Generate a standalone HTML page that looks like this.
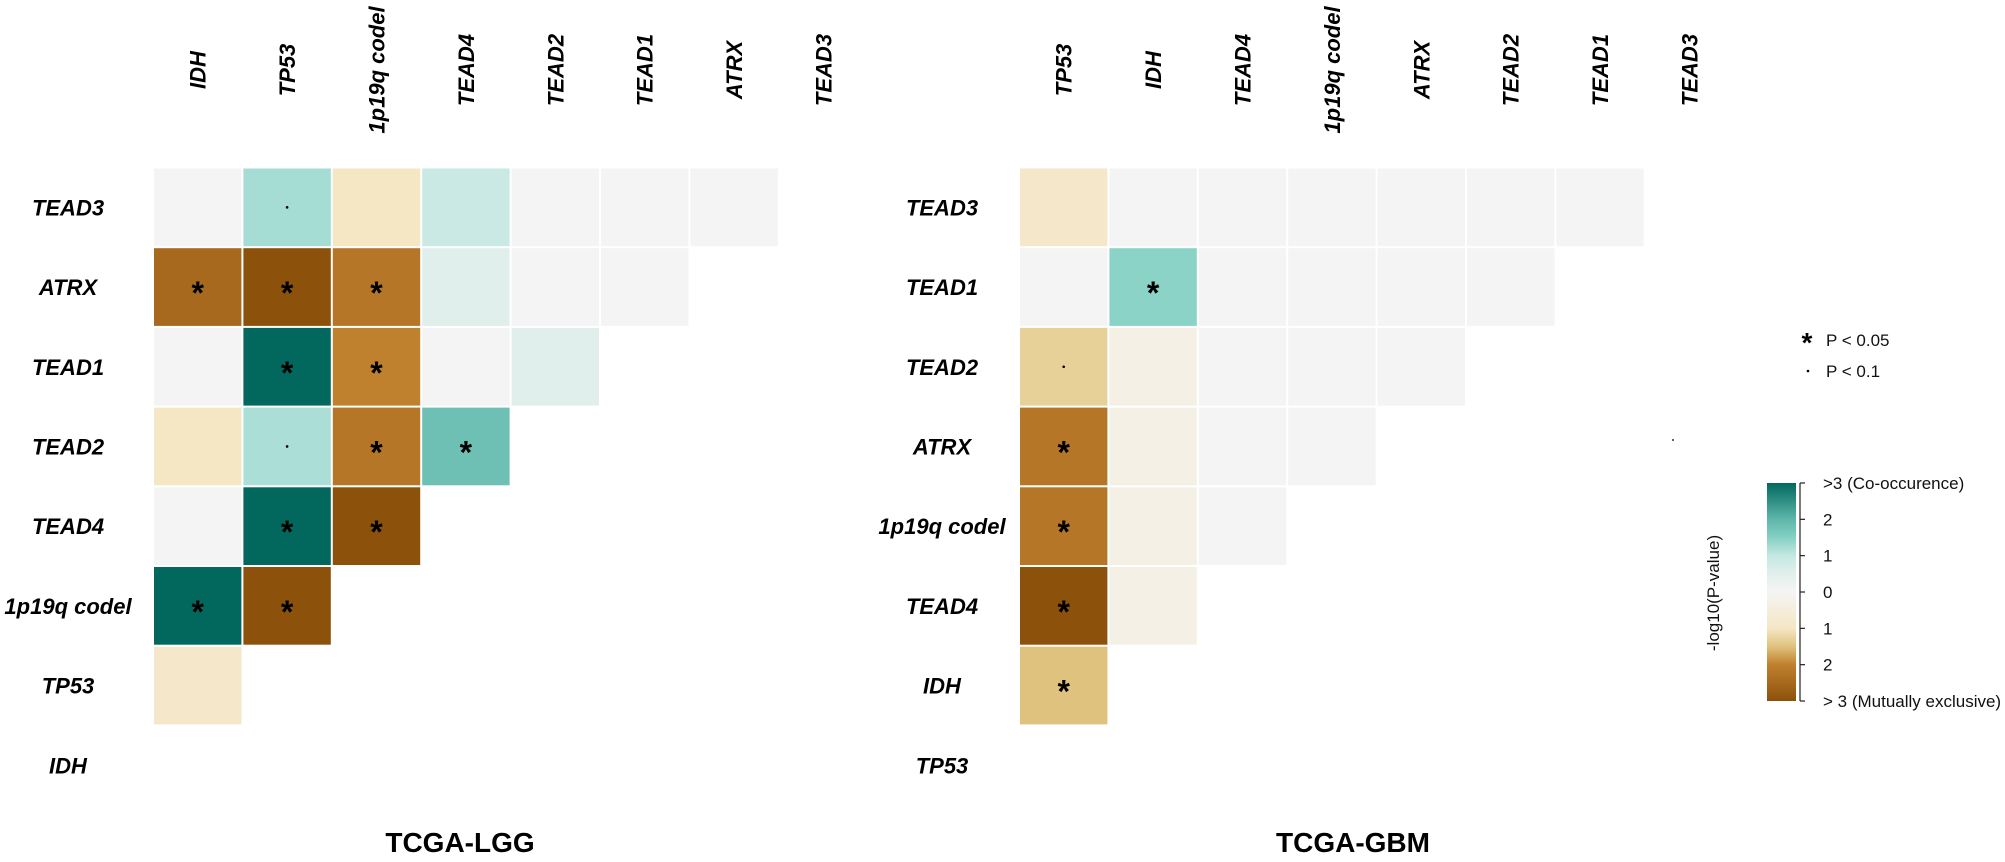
<!DOCTYPE html>
<html><head><meta charset="utf-8">
<style>
html,body{margin:0;padding:0;background:#fff;}
svg{display:block;}
text{font-family:"Liberation Sans",sans-serif;}
.lab{font-weight:bold;font-style:italic;font-size:22px;fill:#000;}
.ttl{font-weight:bold;font-size:28px;fill:#000;}
.leg{font-size:17px;fill:#111;}
</style></head>
<body>
<svg id="chart" width="2005" height="862" viewBox="0 0 2005 862" xmlns="http://www.w3.org/2000/svg"></svg>
<script>
// ---- data ----
const lggCols = ["IDH","TP53","1p19q codel","TEAD4","TEAD2","TEAD1","ATRX","TEAD3"];
const lggRows = ["TEAD3","ATRX","TEAD1","TEAD2","TEAD4","1p19q codel","TP53","IDH"];
const lggValues = [
  [0, 1.25, -1, 0.9, 0, 0, 0],
  [-2.5, -3, -2.2, 0.5, 0, 0],
  [0, 3, -2, 0, 0.5],
  [-1, 1.2, -2.2, 1.8],
  [0, 3, -3],
  [3, -3],
  [-0.9]
];
const lggSig = [
  ["", ".", "", "", "", "", ""],
  ["*", "*", "*", "", "", ""],
  ["", "*", "*", "", ""],
  ["", ".", "*", "*"],
  ["", "*", "*"],
  ["*", "*"],
  [""]
];
const gbmCols = ["TP53","IDH","TEAD4","1p19q codel","ATRX","TEAD2","TEAD1","TEAD3"];
const gbmRows = ["TEAD3","TEAD1","TEAD2","ATRX","1p19q codel","TEAD4","IDH","TP53"];
const gbmValues = [
  [-0.9, 0, 0, 0, 0, 0, 0],
  [0, 1.45, 0, 0, 0, 0],
  [-1.3, -0.3, 0, 0, 0],
  [-2.2, -0.3, 0, 0],
  [-2.2, -0.3, 0],
  [-3, -0.3],
  [-1.5]
];
const gbmSig = [
  ["", "", "", "", "", "", ""],
  ["", "*", "", "", "", ""],
  [".", "", "", "", ""],
  ["*", "", "", ""],
  ["*", "", ""],
  ["*", ""],
  ["*"]
];
const scaleTicks = [">3 (Co-occurence)", "2", "1", "0", "1", "2", "> 3 (Mutually exclusive)"];
const scaleTickVals = [3, 2, 1, 0, -1, -2, -3];

// ---- helpers ----
const NS = "http://www.w3.org/2000/svg";
const svg = document.getElementById("chart");
function mk(tag, attrs, parent){
  const e = document.createElementNS(NS, tag);
  for (const k in attrs) e.setAttribute(k, attrs[k]);
  (parent||svg).appendChild(e);
  return e;
}
const stops = [[-3,"#8c510a"],[-2.5,"#a6691e"],[-2,"#bf812d"],[-1.5,"#dfc27d"],[-1,"#f5e6c4"],[0,"#f4f4f4"],[0.5,"#e1efec"],[1,"#c4e8e2"],[1.5,"#85d0c4"],[2,"#5fb6ab"],[2.5,"#2f8f85"],[3,"#02685e"]];
function hex2rgb(h){return [1,3,5].map(i=>parseInt(h.substr(i,2),16));}
function color(v){
  v = Math.max(-3, Math.min(3, v));
  for (let i=0;i<stops.length-1;i++){
    const [a,ca]=stops[i],[b,cb]=stops[i+1];
    if (v>=a && v<=b){
      const t=(v-a)/(b-a), A=hex2rgb(ca), B=hex2rgb(cb);
      return "rgb("+A.map((x,k)=>Math.round(x+(B[k]-x)*t)).join(",")+")";
    }
  }
  return "#f4f4f4";
}

function panel(name, cols, rows, values, sig, x0, rowLabelX, titleX, title){
  const g = mk("g", {});
  
  
  const cw = 89.4, rh = 79.7, y0 = 167.5;
  const xAt = j => x0 + j*cw;
  const yAt = i => y0 + i*rh;
  cols.forEach((c,j)=>{
    const cx = xAt(j) + cw/2;
    const t = mk("text", {class:"lab", x:0, y:0, "text-anchor":"middle", transform:"translate("+(cx+8)+",70) rotate(-90)"}, g);
    t.textContent = c;
    
    
  });
  rows.forEach((r,i)=>{
    const t = mk("text", {class:"lab", x:rowLabelX, y:yAt(i)+rh/2+8, "text-anchor":"middle"}, g);
    t.textContent = r;
    
    
  });
  values.forEach((row,i)=>{
    row.forEach((v,j)=>{
      const rc = mk("rect", {x:xAt(j)+1, y:yAt(i)+1, width:cw-2, height:rh-2, fill:color(v)}, g);
      
      
      const s = sig[i][j];
      if (s==="*"){
        const t = mk("text", {x:xAt(j)+cw/2, y:yAt(i)+rh/2+17, "text-anchor":"middle", "font-size":"32", "font-weight":"bold", fill:"#000"}, g);
        t.textContent = "*";
        
        
      } else if (s==="."){
        const c = mk("circle", {cx:xAt(j)+cw/2, cy:yAt(i)+rh/2, r:1.3, fill:"#000"}, g);
        
        
      }
    });
  });
  const tt = mk("text", {class:"ttl", x:titleX, y:852, "text-anchor":"middle"}, g);
  tt.textContent = title;
  
  
}
panel("lgg", lggCols, lggRows, lggValues, lggSig, 153, 68, 460, "TCGA-LGG");
panel("gbm", gbmCols, gbmRows, gbmValues, gbmSig, 1019, 942, 1353, "TCGA-GBM");

// ---- legend ----
const lg = mk("g", {});


let t = mk("text", {x:1807, y:352, "text-anchor":"middle", "font-size":"28", "font-weight":"bold"}, lg); t.textContent = "*";


t = mk("text", {class:"leg", x:1826, y:346}, lg); t.textContent = "P < 0.05";


let d = mk("circle", {cx:1808, cy:371, r:1.3, fill:"#000"}, lg);


t = mk("text", {class:"leg", x:1826, y:377}, lg); t.textContent = "P < 0.1";


d = mk("circle", {cx:1673, cy:440, r:1, fill:"#333"}, lg);



// colorbar
const defs = mk("defs", {});
const grad = mk("linearGradient", {id:"cbg", x1:0, y1:0, x2:0, y2:1}, defs);
for (let k=0;k<=24;k++){
  const v = 3 - k*6/24;
  mk("stop", {offset:(k/24).toFixed(3), "stop-color":color(v)}, grad);
}
const cbTop = 483, cbBot = 701;
const yScale = v => cbTop + (3 - v)/6*(cbBot-cbTop);
const cb = mk("g", {});


const cr = mk("rect", {x:1767, y:cbTop, width:29, height:cbBot-cbTop, fill:"url(#cbg)"}, cb);


const ax = mk("line", {x1:1800, y1:cbTop, x2:1800, y2:cbBot, stroke:"#222", "stroke-width":1.2}, cb);


scaleTickVals.forEach((v,k)=>{
  const y = yScale(v);
  const tk = mk("line", {x1:1800, y1:y, x2:1805, y2:y, stroke:"#222", "stroke-width":1.2}, cb);
  
  
  const tl = mk("text", {class:"leg", x:1823, y:y+6}, cb);
  tl.textContent = scaleTicks[k];
  
  
});
const at = mk("text", {class:"leg", x:0, y:0, "text-anchor":"middle", "font-size":"16", transform:"translate(1719,593) rotate(-90)"}, cb);
at.textContent = "-log10(P-value)";


</script>
</body></html>
